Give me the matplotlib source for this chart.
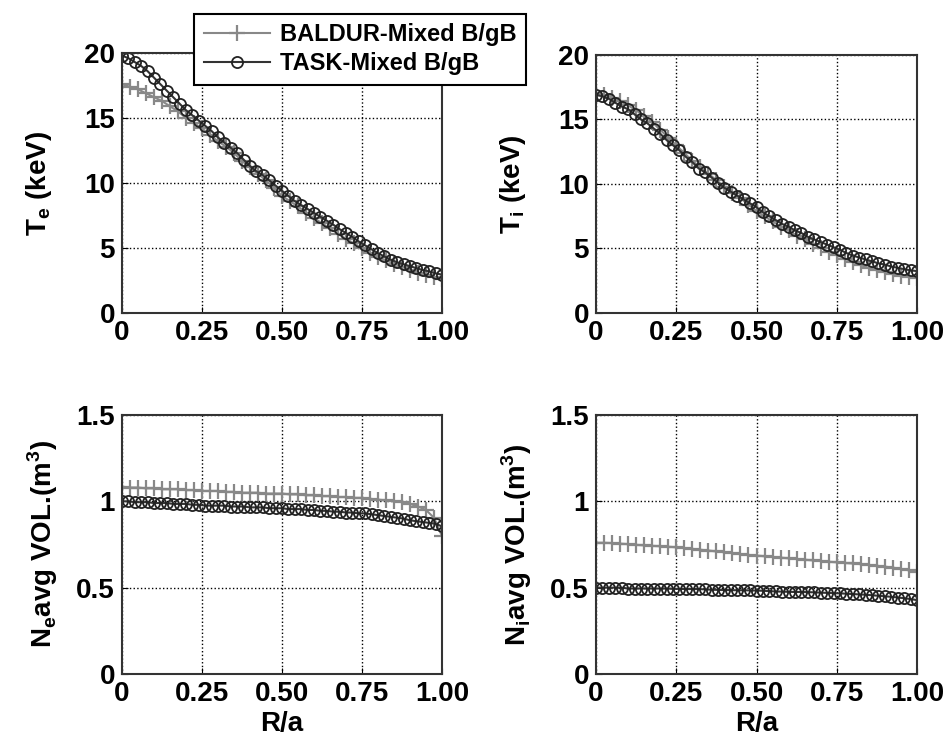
import numpy as np
import matplotlib
matplotlib.use('Agg')
import matplotlib.pyplot as plt

plt.rcParams['font.family'] = 'Liberation Sans'
plt.rcParams['font.weight'] = 'bold'
plt.rcParams['mathtext.fontset'] = 'custom'
plt.rcParams['mathtext.rm'] = 'Liberation Sans:bold'

# radial grids (R/a)
r_baldur = np.linspace(0, 1, 41)
r_task = np.linspace(0, 1, 51)

te_baldur = [17.6, 17.4, 17.2, 16.9, 16.6, 16.3, 15.9, 15.5, 15.0, 14.6, 14.2,
             13.7, 13.2, 12.8, 12.3, 11.7, 11.2, 10.7, 10.2, 9.6, 9.0,
             8.6, 8.2, 7.7, 7.3, 6.9, 6.5, 6.1, 5.7, 5.35, 5.0,
             4.65, 4.3, 4.05, 3.8, 3.55, 3.3, 3.1, 2.9, 2.75, 2.6]
te_task = [19.8, 19.6, 19.3, 19.0, 18.6, 18.1, 17.6, 17.1, 16.6, 16.1, 15.6,
           15.2, 14.8, 14.4, 14.0, 13.5, 13.1, 12.7, 12.3, 11.8, 11.3,
           10.9, 10.6, 10.2, 9.8, 9.4, 9.0, 8.6, 8.3, 8.0, 7.7,
           7.4, 7.1, 6.8, 6.45, 6.15, 5.85, 5.5, 5.2, 4.9, 4.6,
           4.35, 4.1, 3.9, 3.75, 3.6, 3.45, 3.3, 3.2, 3.05, 2.95]

ti_baldur = [17.0, 16.9, 16.7, 16.4, 16.1, 15.7, 15.3, 14.8, 14.2, 13.6, 13.0,
             12.4, 11.8, 11.3, 10.8, 10.3, 9.8, 9.3, 8.9, 8.4, 7.9,
             7.5, 7.1, 6.7, 6.4, 6.0, 5.7, 5.35, 5.05, 4.75, 4.5,
             4.2, 3.95, 3.7, 3.5, 3.3, 3.15, 3.0, 2.9, 2.8, 2.75]
ti_task = [16.9, 16.8, 16.6, 16.3, 16.0, 15.8, 15.4, 15.0, 14.7, 14.3, 13.9,
           13.4, 13.0, 12.6, 12.1, 11.7, 11.2, 10.9, 10.5, 10.1, 9.7,
           9.4, 9.1, 8.8, 8.5, 8.2, 7.8, 7.5, 7.2, 6.9, 6.7,
           6.4, 6.2, 5.9, 5.7, 5.5, 5.3, 5.1, 4.9, 4.65, 4.45,
           4.3, 4.15, 4.0, 3.85, 3.75, 3.6, 3.5, 3.4, 3.3, 3.25]

ne_baldur = [1.085, 1.08, 1.08, 1.075, 1.075, 1.07, 1.07, 1.07, 1.065, 1.065, 1.06,
             1.06, 1.06, 1.055, 1.055, 1.05, 1.05, 1.05, 1.045, 1.045, 1.045,
             1.04, 1.04, 1.035, 1.035, 1.03, 1.03, 1.025, 1.025, 1.02, 1.02,
             1.015, 1.01, 1.005, 1.0, 0.995, 0.985, 0.97, 0.95, 0.905, 0.80]
ne_task = [1.0, 1.0, 0.995, 0.995, 0.995, 0.99, 0.99, 0.99, 0.985, 0.985, 0.985,
           0.98, 0.98, 0.975, 0.975, 0.975, 0.975, 0.97, 0.97, 0.97, 0.965,
           0.965, 0.965, 0.96, 0.96, 0.96, 0.955, 0.955, 0.955, 0.95, 0.95,
           0.945, 0.945, 0.94, 0.94, 0.935, 0.935, 0.93, 0.93, 0.925, 0.92,
           0.915, 0.91, 0.905, 0.9, 0.89, 0.885, 0.88, 0.875, 0.87, 0.855]

ni_baldur = [0.76, 0.76, 0.758, 0.755, 0.752, 0.748, 0.745, 0.742, 0.74, 0.737, 0.734,
             0.73, 0.725, 0.72, 0.715, 0.71, 0.705, 0.70, 0.695, 0.69, 0.686,
             0.682, 0.678, 0.674, 0.67, 0.666, 0.662, 0.658, 0.654, 0.65, 0.647,
             0.643, 0.64, 0.636, 0.632, 0.627, 0.622, 0.616, 0.609, 0.60, 0.59]
ni_task = [0.50, 0.50, 0.50, 0.50, 0.50, 0.495, 0.495, 0.495, 0.495, 0.495, 0.495,
           0.495, 0.493, 0.493, 0.492, 0.492, 0.492, 0.49, 0.488, 0.487, 0.486,
           0.486, 0.485, 0.485, 0.484, 0.483, 0.482, 0.48, 0.478, 0.477, 0.476,
           0.475, 0.475, 0.474, 0.473, 0.471, 0.47, 0.468, 0.467, 0.465, 0.463,
           0.461, 0.459, 0.456, 0.453, 0.45, 0.447, 0.443, 0.439, 0.434, 0.428]

xticks = [0, 0.25, 0.5, 0.75, 1.0]
xticklabels = ['0', '0.25', '0.50', '0.75', '1.00']

fig = plt.figure(figsize=(9.48, 7.38), dpi=100)
boxes = [[0.1287, 0.5759, 0.3375, 0.3523],
         [0.6287, 0.5759, 0.3386, 0.3496],
         [0.1287, 0.0867, 0.3375, 0.3510],
         [0.6287, 0.0867, 0.3386, 0.3510]]
panels = [(te_baldur, te_task, r'T$_{\rm e}$ (keV)', 'T'),
          (ti_baldur, ti_task, r'T$_{\rm i}$ (keV)', 'T'),
          (ne_baldur, ne_task, r'N$_{\rm e}$avg VOL.(m$^{\rm 3}$)', 'N'),
          (ni_baldur, ni_task, r'N$_{\rm i}$avg VOL.(m$^{\rm 3}$)', 'N')]

for i, (box, (yb, yt, lab, kind)) in enumerate(zip(boxes, panels)):
    ax = fig.add_axes(box)
    lb, = ax.plot(r_baldur, yb, color='#888888', marker='+', markersize=12,
                  markeredgewidth=1.6, linewidth=1.5, label='BALDUR-Mixed B/gB')
    lt, = ax.plot(r_task, yt, color='#333333', marker='o', markersize=8,
                  markerfacecolor='none', markeredgecolor='#222222',
                  markeredgewidth=1.3, linewidth=1.5, label='TASK-Mixed B/gB')
    ax.set_xlim(0, 1)
    ax.set_xticks(xticks)
    ax.set_xticklabels(xticklabels)
    if kind == 'T':
        ax.set_ylim(0, 20)
        ax.set_yticks([0, 5, 10, 15, 20])
        ax.set_yticklabels(['0', '5', '10', '15', '20'])
        pad = 22
    else:
        ax.set_ylim(0, 1.5)
        ax.set_yticks([0, 0.5, 1, 1.5])
        ax.set_yticklabels(['0', '0.5', '1', '1.5'])
        ax.set_xlabel('R/a', fontsize=20, fontweight='bold', labelpad=3)
        pad = 12
    ax.set_ylabel(lab, fontsize=20, fontweight='bold', labelpad=pad)
    ax.grid(True, color='black', linestyle=':', linewidth=1)
    ax.tick_params(direction='in', length=4, labelsize=20, pad=5)
    for s in ax.spines.values():
        s.set_linewidth(1.5)
        s.set_color('#333333')
    for t in ax.get_xticklabels() + ax.get_yticklabels():
        t.set_fontweight('bold')
    if i == 0:
        handles = [lb, lt]

leg = fig.legend(handles=handles, loc='upper left', bbox_to_anchor=(0.2047, 0.981),
                 fontsize=17, fancybox=False, edgecolor='black', framealpha=1,
                 handlelength=2.8, handletextpad=0.45, borderpad=0.4,
                 borderaxespad=0, labelspacing=0.25)
leg.get_frame().set_linewidth(1.5)
for t in leg.get_texts():
    t.set_fontweight('bold')

fig.savefig('out.png', dpi=100)
